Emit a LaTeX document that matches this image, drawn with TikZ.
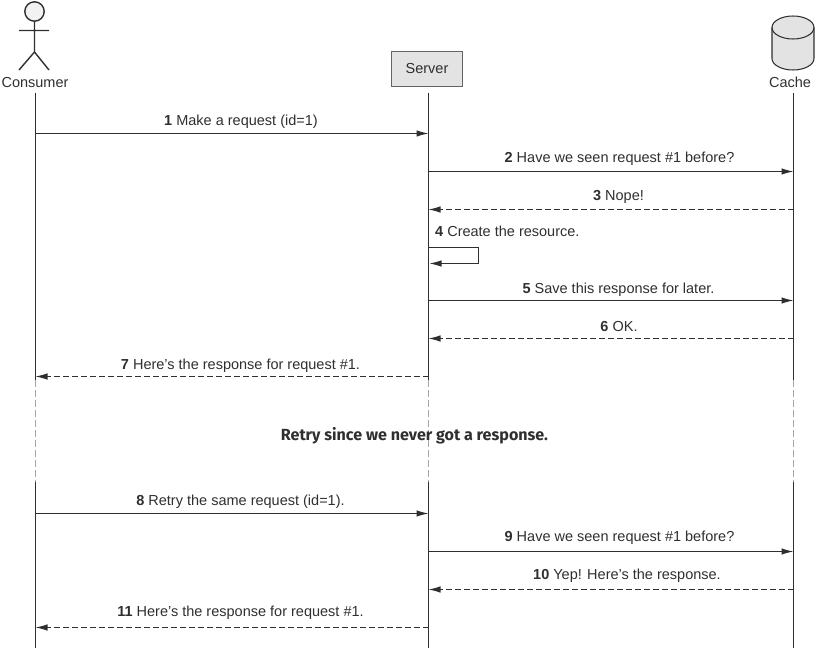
\documentclass[tikz,border=0pt]{standalone}
\usepackage{fontspec}
\setmainfont{Liberation Sans}
\newfontfamily\retryfont{Fira Sans}
\usetikzlibrary{arrows.meta}
\definecolor{ink}{HTML}{2F2F2F}
\definecolor{boxgray}{HTML}{E3E3E3}
\tikzset{
  msg/.style={draw=ink,line width=1.05pt,-{Latex[length=12pt,width=6.5pt]}},
  reply/.style={msg,dash pattern=on 6pt off 3pt},
  life/.style={draw=ink,line width=1.05pt},
  gap/.style={draw=black!35,line width=0.9pt,dash pattern=on 7pt off 3pt},
  lab/.style={text=ink,font=\fontsize{14.5}{16}\selectfont,inner sep=0pt,anchor=base},
  party/.style={text=ink,font=\fontsize{14.5}{17}\selectfont,inner sep=0pt},
  glyph/.style={draw=ink,line width=1.4pt},
}
\begin{document}
\begin{tikzpicture}[x=1pt,y=-1pt]
\useasboundingbox (0,0) rectangle (815,648);
% actor
\draw[glyph,fill=white!95!black] (34.5,11.5) circle (9.7pt);
\draw[glyph] (34.5,21) -- (34.5,52) (19,30.5) -- (49,30.5) (19,70) -- (34.5,52) -- (49,70);
\node[party] (consumer) at (35,83) {Consumer};
% server
\node[draw=ink!75,line width=1.05pt,fill=boxgray,minimum width=71pt,minimum height=35pt,inner sep=0pt,text=ink,font=\fontsize{14.5}{17}\selectfont] (server) at (427,69) {Server};
% cache
\draw[draw=ink,line width=1.05pt,fill=boxgray] (772,27.5) -- (772,58.5) arc[start angle=180,end angle=360,x radius=21pt,y radius=11.5pt] -- (814,27.5) arc[start angle=0,end angle=180,x radius=21pt,y radius=11.5pt];
\draw[draw=ink,line width=1.05pt] (772,27.5) arc[start angle=180,end angle=360,x radius=21pt,y radius=11.5pt];
\node[party] (cache) at (790,82) {Cache};
% lifeline anchors
\foreach \n/\x in {c/35.5,s/428.5,k/793.5}{
  \coordinate (\n top) at (\x,93);
  \coordinate (\n a) at (\x,380);
  \coordinate (\n b) at (\x,482);
  \coordinate (\n end) at (\x,648);
  \draw[life] (\n top) -- (\n a);
  \draw[gap] (\n a) -- (\n b);
  \draw[life] (\n b) -- (\n end);
}
% message ends
\foreach \i/\y in {1/133.5,2/171.5,3/209.5,5/300.5,6/338.5,7/376.5,8/513.5,9/551.5,10/589.5,11/627.5}{
  \coordinate (c\i) at (35.5,\y);
  \coordinate (sl\i) at (428.5,\y);
  \coordinate (sr\i) at (428.5,\y);
  \coordinate (k\i) at (793.5,\y);
}
\coordinate (l1) at (428.5,247.5);
\coordinate (l2) at (478.5,247.5);
\coordinate (l3) at (478.5,263.5);
\coordinate (l4) at (429.5,263.5);
\draw[msg] (c1) -- (sl1);
\draw[msg] (sr2) -- (k2);
\draw[reply] (k3) -- (sr3);
\draw[msg] (l1) -- (l2) -- (l3) -- (l4);
\draw[msg] (sr5) -- (k5);
\draw[reply] (k6) -- (sr6);
\draw[reply] (sl7) -- (c7);
\draw[msg] (c8) -- (sl8);
\draw[msg] (sr9) -- (k9);
\draw[reply] (k10) -- (sr10);
\draw[reply] (sl11) -- (c11);
% labels
\node[lab] (t1) at (241,125) {\textbf{1} Make a request (id=1)};
\node[lab] (t2) at (619.5,162) {\textbf{2} Have we seen request \#1 before?};
\node[lab] (t3) at (618.5,200) {\textbf{3} Nope!};
\node[lab,anchor=base west] (t4) at (435,236) {\textbf{4} Create the resource.};
\node[lab] (t5) at (618.5,293) {\textbf{5} Save this response for later.};
\node[lab] (t6) at (619,331) {\textbf{6} OK.};
\node[lab] (t7) at (240.5,369) {\textbf{7} Here’s the response for request \#1.};
\node[text=ink,font=\retryfont\bfseries\fontsize{16.1}{18}\selectfont,inner sep=0pt] (retry) at (414.5,436) {Retry since we never got a response.};
\node[lab] (t8) at (240.5,505) {\textbf{8} Retry the same request (id=1).};
\node[lab] (t9) at (619.5,541) {\textbf{9} Have we seen request \#1 before?};
\node[lab] (t10) at (627,579) {\textbf{10} Yep! Here’s the response.};
\node[lab] (t11) at (240.5,616) {\textbf{11} Here’s the response for request \#1.};
\end{tikzpicture}
\end{document}
